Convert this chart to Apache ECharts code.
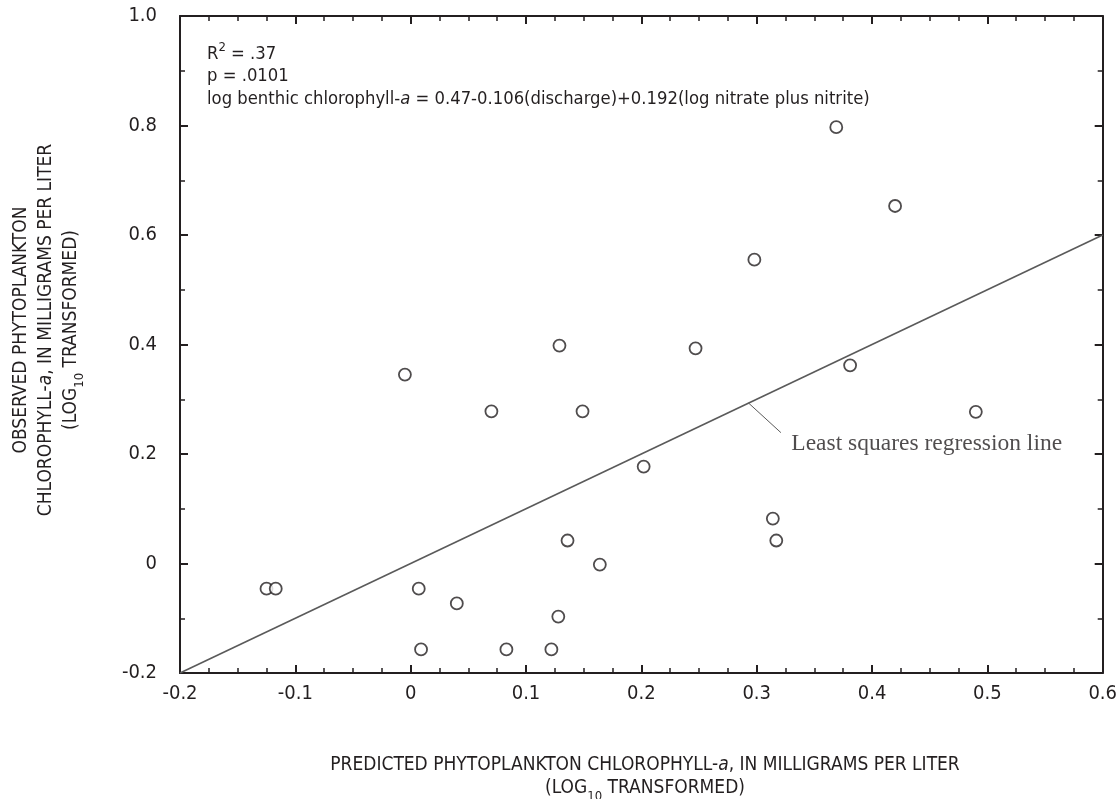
<!DOCTYPE html>
<html>
<head>
<meta charset="utf-8">
<script src="https://cdn.jsdelivr.net/npm/echarts@6/dist/echarts.min.js"></script>
<style>
html,body{margin:0;padding:0;background:#fff;}
#chart{width:1120px;height:799px;}
</style>
</head>
<body>
<div id="chart"></div>
<script>
// Data
var predicted = [-0.125,-0.117,-0.005,0.007,0.009,0.040,0.070,0.083,0.122,0.128,0.129,0.136,0.149,0.164,0.202,0.247,0.298,0.314,0.317,0.369,0.381,0.420,0.490];
var observed  = [-0.046,-0.046,0.345,-0.046,-0.157,-0.073,0.278,-0.157,-0.157,-0.097,0.398,0.042,0.278,-0.002,0.177,0.393,0.555,0.082,0.042,0.797,0.362,0.653,0.277];
var regLineX = [-0.2, 0.6];
var regLineY = [-0.2, 0.6];
var leaderX = [0.293, 0.321];
var leaderY = [0.293, 0.239];
var calloutX = [0.330];
var calloutY = [0.219];
var calloutText = 'Least squares regression line';
var xTicks = {min:-0.2, max:0.6, interval:0.1};
var yTicks = {min:-0.2, max:1.0, interval:0.2};

var SANS = '"Liberation Sans Narrow","Arial Narrow","DejaVu Sans Condensed",sans-serif';
var SERIF = '"Liberation Serif","Times New Roman",serif';
var INK = '#231f20';

function fmt(v){ if (Math.abs(v) < 1e-9) return '0'; return v.toFixed(1); }
function zip(a,b){ return a.map(function(v,i){ return [v,b[i]]; }); }

var chart = echarts.init(document.getElementById('chart'), null, {renderer:'canvas'});

function axisCommon(showLabel, minorSplit){
  return {
    axisLine:{show:true, onZero:false, lineStyle:{color:INK, width:2}},
    axisTick:{show:true, inside:true, length:8, lineStyle:{color:INK, width:2}},
    minorTick:{show:true, splitNumber:minorSplit, length:5, lineStyle:{color:INK, width:1.5}},
    splitLine:{show:false},
    axisLabel:{show:showLabel, formatter:fmt, color:INK, fontFamily:SANS, fontSize:20},
  };
}

var xb = Object.assign({type:'value', position:'bottom', min:xTicks.min, max:xTicks.max, interval:xTicks.interval}, axisCommon(true,4));
xb.axisLabel.margin = 11;
var xt = Object.assign({type:'value', position:'top', min:xTicks.min, max:xTicks.max, interval:xTicks.interval}, axisCommon(false,4));
var yl = Object.assign({type:'value', position:'left', min:yTicks.min, max:yTicks.max, interval:yTicks.interval}, axisCommon(true,2));
yl.axisLabel.margin = 23;
var yr = Object.assign({type:'value', position:'right', min:yTicks.min, max:yTicks.max, interval:yTicks.interval}, axisCommon(false,2));

var sub = {fontFamily:SANS, fontSize:13, color:INK, verticalAlign:'bottom', padding:[0,0,-3,0]};
var sup = {fontFamily:SANS, fontSize:13, color:INK, verticalAlign:'top', padding:[-2,0,0,0]};

chart.setOption({
  animation:false,
  backgroundColor:'#fff',
  grid:{left:180, right:14, top:16, bottom:126, containLabel:false},
  xAxis:[xb, xt],
  yAxis:[yl, yr],
  series:[
    {type:'line', data:zip(regLineX, regLineY), symbol:'none', lineStyle:{color:'#5a5a5a', width:1.6}, silent:true, z:2},
    {type:'line', data:zip(leaderX, leaderY), symbol:'none', lineStyle:{color:'#5a5a5a', width:1}, silent:true, z:2},
    {type:'scatter', data:zip(calloutX, calloutY), symbolSize:0,
      label:{show:true, position:'right', distance:0, formatter:calloutText, fontFamily:SERIF, fontSize:23.5, color:INK}, z:3},
    {type:'scatter', data:zip(predicted, observed), symbol:'circle', symbolSize:12,
      itemStyle:{color:'#fff', borderColor:INK, borderWidth:1.8}, z:4}
  ],
  graphic:[
    {type:'text', left:207, top:41, style:{
      text:'R{sup|2} = .37\np = .0101\nlog benthic chlorophyll-{i|a} = 0.47-0.106(discharge)+0.192(log nitrate plus nitrite)',
      fontFamily:SANS, fontSize:18.3, lineHeight:22.5, fill:INK,
      rich:{sup:sup, i:{fontFamily:SANS, fontSize:18.3, fontStyle:'italic', color:INK}}
    }},
    {type:'text', x:645, y:754, style:{
      text:'PREDICTED PHYTOPLANKTON CHLOROPHYLL-{i|a}, IN MILLIGRAMS PER LITER\n(LOG{sub|10} TRANSFORMED)',
      fontFamily:SANS, fontSize:19, lineHeight:23, fill:INK, align:'center', verticalAlign:'top',
      rich:{sub:sub, i:{fontFamily:SANS, fontSize:19, fontStyle:'italic', color:INK}}
    }},
    {type:'text', x:46, y:330, rotation:Math.PI/2, style:{
      text:'OBSERVED PHYTOPLANKTON\nCHLOROPHYLL-{i|a}, IN MILLIGRAMS PER LITER\n(LOG{sub|10} TRANSFORMED)',
      fontFamily:SANS, fontSize:19, lineHeight:25, fill:INK, align:'center', verticalAlign:'middle',
      rich:{sub:sub, i:{fontFamily:SANS, fontSize:19, fontStyle:'italic', color:INK}}
    }}
  ]
});
</script>
</body>
</html>
